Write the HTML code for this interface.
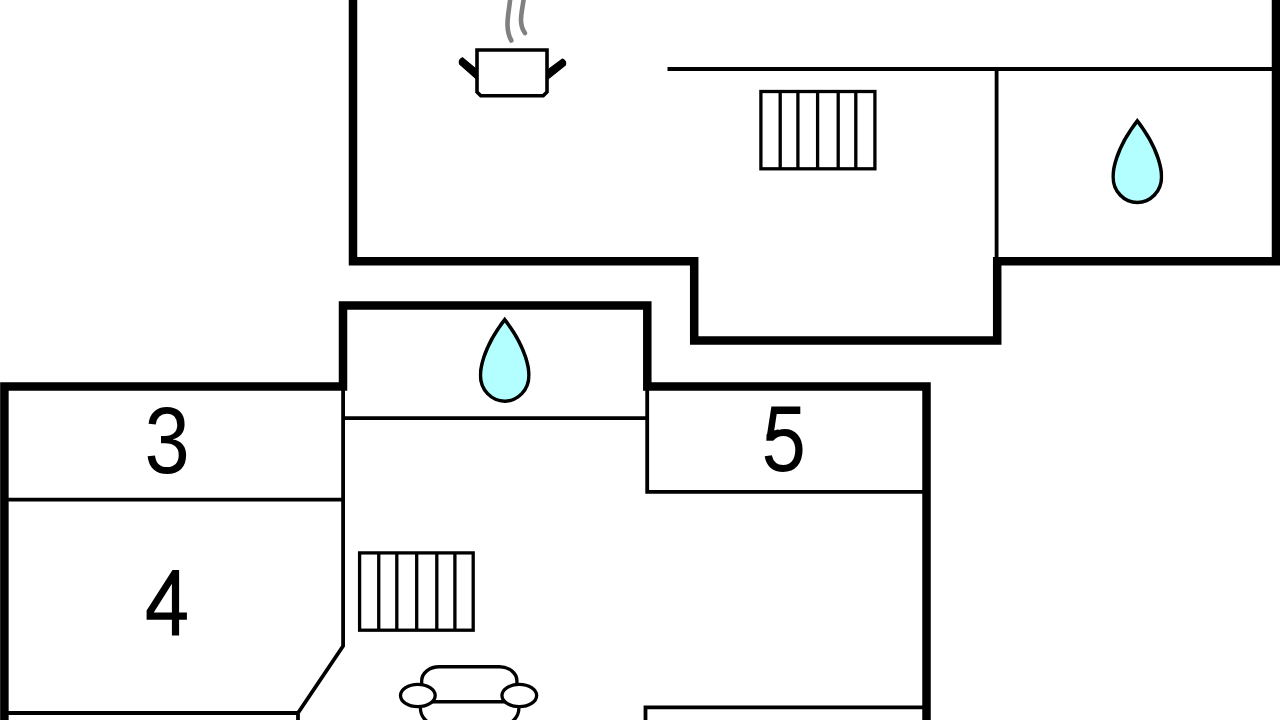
<!DOCTYPE html>
<html>
<head>
<meta charset="utf-8">
<style>
html,body{margin:0;padding:0;background:#fff;width:1280px;height:720px;overflow:hidden;}
svg{display:block;}
text{font-family:"Liberation Sans",sans-serif;}
</style>
</head>
<body>
<svg width="1280" height="720" viewBox="0 0 1280 720">
<rect x="0" y="0" width="1280" height="720" fill="#fff"/>
<defs>
  <path id="dropP" d="M0,0 C25,31.5 26,54.2 26,58.8 A26,27.4 0 0 1 -26,58.8 C-26,54.2 -25,31.5 0,0 Z"/>
  <clipPath id="dropC"><use href="#dropP"/></clipPath>
  <clipPath id="clip5"><path d="M740,434 H778 V418 H840 V490 H740 Z"/></clipPath>
</defs>


<!-- ===== Top building ===== -->
<g fill="none" stroke="#000" stroke-linejoin="miter" stroke-miterlimit="10">
  <path d="M353,-10 V261.2 H694.2 V340.5 H997.2 V261.2 H1276 V-10" stroke-width="8.5"/>
  <path d="M667.5,69 H1276 M996.6,69 V261" stroke-width="3.8"/>
</g>

<!-- radiator top -->
<g fill="none" stroke="#000" stroke-width="3.3">
  <rect x="760.9" y="91.5" width="114" height="77.3"/>
  <path d="M780.2,91.5 V168.8 M797.9,91.5 V168.8 M817.6,91.5 V168.8 M838.2,91.5 V168.8 M855.8,91.5 V168.8"/>
</g>

<!-- drop top -->
<g transform="translate(1137.3,118.1)"><use href="#dropP" fill="#b3ffff" stroke="#000" stroke-width="7" clip-path="url(#dropC)"/></g>

<!-- pot -->
<g fill="#000" stroke="#000" stroke-width="1.2" stroke-linejoin="round">
  <path d="M462.4,57.7 L478,70.6 L478,80.3 L459.6,64 Q458.3,59.6 462.4,57.7 Z"/>
  <path d="M562.5,59 L547,70.5 L547,79.8 L565.4,65 Q566.65,60.7 562.5,59 Z"/>
</g>
<path d="M477,50 H547 V92 L543.2,95.75 H480.8 L477,92 Z" fill="#fff" stroke="#000" stroke-width="3.6"/>
<g fill="none" stroke="#808080" stroke-width="4.6" stroke-linecap="round">
  <path d="M510.5,-4 C509.5,8 507.3,16 507.5,25 C507.7,33 509.3,37 511.3,40.5"/>
  <path d="M524,-4 C523,6 521,13 521,20 C521,26 522.8,30 524.9,33"/>
</g>

<!-- ===== Bottom building ===== -->
<g fill="none" stroke="#000" stroke-linejoin="miter" stroke-miterlimit="10">
  <path d="M4.4,730 V386.6 H343 V305.4 H647.3 V386.6 H926.5 V730" stroke-width="8.5"/>
  <path d="M343.1,386.6 V646 L298,713 V730 M4.4,713 H298 M4.4,499.7 H343.1 M343.1,418.2 H647.3 M647.2,386.6 V491.9 H926.5 M645.5,730 V707.4 H926.5" stroke-width="3.8"/>
</g>

<!-- drop bottom -->
<g transform="translate(504.7,316.7)"><use href="#dropP" fill="#b3ffff" stroke="#000" stroke-width="7" clip-path="url(#dropC)"/></g>

<!-- radiator bottom -->
<g fill="none" stroke="#000" stroke-width="3.3">
  <rect x="359.6" y="552.9" width="113.6" height="77.3"/>
  <path d="M378.75,552.9 V630.2 M396.8,552.9 V630.2 M416.7,552.9 V630.2 M436.8,552.9 V630.2 M454.9,552.9 V630.2"/>
</g>

<!-- sofa -->
<g fill="none" stroke="#000" stroke-width="3.3">
  <path d="M421.7,701.75 V680.75 A17.5,14 0 0 1 439.2,666.75 H499.4 A17.5,14 0 0 1 516.9,680.75 V701.75 Z"/>
  <path d="M420.4,700 V708 A17,17 0 0 0 437.4,725 H501.9 A17,17 0 0 0 518.9,708 V700"/>
  <ellipse cx="417.85" cy="695.55" rx="17.35" ry="11.15" fill="#fff"/>
  <ellipse cx="519.3" cy="695.55" rx="17.35" ry="11.15" fill="#fff"/>
</g>

<!-- labels -->
<path fill="#000" fill-rule="evenodd" d="M172.5,570 H179.1 V612.5 H186.9 V619.75 H179.1 V635.6 H171.9 V619.75 H146.6 V610.6 Z M171.9,583.75 V612.5 H153.75 Z"/>

<g fill="#000" font-size="94" text-anchor="middle">
  <text transform="translate(167,472.5) scale(0.865,1)">3</text>
  <g clip-path="url(#clip5)"><text transform="translate(783.6,471.2) scale(0.85,1.035)">5</text></g>
  <path d="M771.4,406.4 H800.3 V413.9 H776.7 L774.2,430.5 L778.5,429.3 V436 H766.8 Z"/>
</g>
</svg>
</body>
</html>
